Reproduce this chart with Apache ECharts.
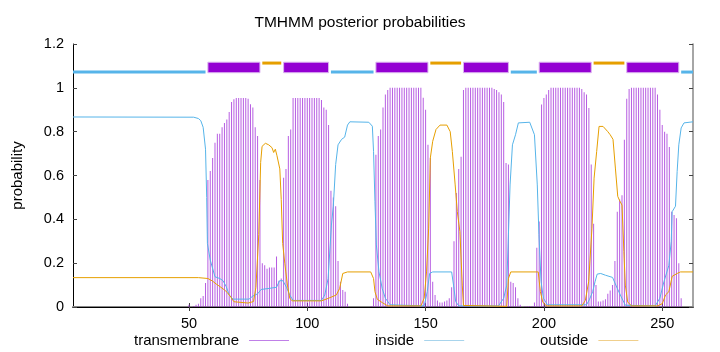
<!DOCTYPE html>
<html>
<head>
<meta charset="utf-8">
<script src="https://cdn.jsdelivr.net/npm/echarts@6/dist/echarts.min.js"></script>
<style>
  html, body { margin: 0; padding: 0; background: #fff; }
  #chart { width: 720px; height: 352px; }
</style>
</head>
<body>
<div id="chart"></div>
<script>
// TMHMM posterior probabilities, one value per residue (1..263)
var tmProb = [
  0, 0, 0, 0, 0, 0, 0, 0, 0, 0,
  0, 0, 0, 0, 0, 0, 0, 0, 0, 0,
  0, 0, 0, 0, 0, 0, 0, 0, 0, 0,
  0, 0, 0, 0, 0, 0, 0, 0, 0, 0,
  0, 0, 0, 0, 0, 0, 0, 0, 0, 0.01,
  0, 0.005, 0.01, 0.015, 0.04, 0.05, 0.11, 0.58, 0.62, 0.68,
  0.75, 0.79, 0.79, 0.82, 0.84, 0.855, 0.89, 0.935, 0.948, 0.954,
  0.954, 0.954, 0.954, 0.954, 0.95, 0.925, 0.91, 0.82, 0.78, 0.58,
  0.2, 0.19, 0.175, 0.18, 0.18, 0.18, 0.23, 0.12, 0.13, 0.59,
  0.63, 0.78, 0.81, 0.954, 0.954, 0.954, 0.954, 0.954, 0.954, 0.954,
  0.954, 0.954, 0.954, 0.954, 0.954, 0.945, 0.91, 0.9, 0.83, 0.53,
  0.5, 0.46, 0.21, 0.115, 0.077, 0.07, 0.015, 0, 0, 0,
  0, 0, 0, 0, 0, 0, 0.005, 0.04, 0.695, 0.78,
  0.81, 0.91, 0.97, 0.99, 1, 1, 1, 1, 1, 1,
  1, 1, 1, 1, 1, 1, 1, 1, 0.955, 0.9,
  0.74, 0.68, 0.115, 0.055, 0.03, 0.02, 0.02, 0.025, 0.03, 0.04,
  0.09, 0.3, 0.52, 0.63, 0.685, 0.99, 1, 1, 1, 1,
  1, 1, 1, 1, 1, 1, 1, 1, 0.995, 0.99,
  0.98, 0.97, 0.935, 0.657, 0.65, 0.115, 0.11, 0.09, 0.04, 0.01,
  0, 0.003, 0.003, 0.005, 0.005, 0.02, 0.27, 0.39, 0.924, 0.954,
  0.97, 0.99, 1, 1, 1, 1, 1, 1, 1, 1,
  1, 1, 1, 1, 1, 0.995, 0.98, 0.97, 0.908, 0.65,
  0.38, 0.1, 0.025, 0.025, 0.03, 0.035, 0.06, 0.075, 0.1, 0.21,
  0.435, 0.49, 0.51, 0.763, 0.95, 0.995, 1, 1, 1, 1,
  1, 1, 1, 1, 1, 1, 1, 0.97, 0.9, 0.83,
  0.8, 0.79, 0.73, 0.435, 0.42, 0.405, 0.2, 0.04, 0, 0,
  0, 0, 0
];

// inside / outside curves, read as [residue, probability] points
var insidePts = [
  [1, 0.867], [52, 0.866], [54, 0.86], [55, 0.85], [56, 0.82], [57, 0.72], [57.5, 0.5], [57.8, 0.29],
  [59, 0.214], [61, 0.138], [63, 0.13], [64.4, 0.12], [65.8, 0.092], [67, 0.055], [68.6, 0.036],
  [75.4, 0.036], [77, 0.05], [79, 0.06], [80.5, 0.08], [84, 0.085], [87, 0.09], [88.3, 0.12],
  [89.7, 0.12], [91.2, 0.09], [92.6, 0.055], [94, 0.03], [106, 0.03], [107.4, 0.055], [108.8, 0.13],
  [110.2, 0.374], [111, 0.46], [112, 0.65], [113, 0.74], [114.5, 0.765], [115.8, 0.775], [117, 0.83],
  [118, 0.845], [126, 0.843], [127.5, 0.825], [128, 0.71], [128.6, 0.48], [129.2, 0.283],
  [130.3, 0.16], [131.7, 0.083], [133, 0.04], [135, 0.01], [149.4, 0.005], [150.7, 0.07],
  [151.7, 0.153], [153, 0.16], [161, 0.16], [161.8, 0.1], [162.7, 0.025], [164, 0.005],
  [180.8, 0.005], [183, 0.04], [184.3, 0.1], [185, 0.33], [185.7, 0.557], [186.7, 0.74],
  [188, 0.786], [189.2, 0.84], [194, 0.843], [194.6, 0.835], [196, 0.786], [197.2, 0.557],
  [197.9, 0.33], [198.8, 0.115], [199.8, 0.04], [201.5, 0.01], [218, 0.01], [219.2, 0.033],
  [220.6, 0.07], [221.6, 0.115], [222.5, 0.15], [224, 0.153], [226, 0.145], [227.5, 0.14],
  [229, 0.135], [229.5, 0.13], [231, 0.085], [232.5, 0.05], [234.4, 0.008], [247, 0.005],
  [249, 0.04], [250.7, 0.115], [252.8, 0.19], [253.8, 0.3], [254.2, 0.435], [255.6, 0.46],
  [256.3, 0.618], [257, 0.74], [258, 0.817], [259.2, 0.84], [263, 0.845]
];
var outsidePts = [
  [1, 0.134], [54, 0.134], [58, 0.13], [60, 0.118], [61.5, 0.105], [63.5, 0.09], [65, 0.078],
  [66.3, 0.065], [67.7, 0.045], [69, 0.024], [75, 0.018], [77.3, 0.025], [78.3, 0.09],
  [79.5, 0.33], [80.3, 0.66], [80.9, 0.733], [82.3, 0.747], [83.7, 0.74], [85.1, 0.727],
  [85.8, 0.705], [86.5, 0.72], [87.2, 0.69], [88, 0.69], [88.4, 0.63], [89, 0.49], [89.6, 0.29],
  [90.5, 0.2], [91.6, 0.1], [92.6, 0.04], [93.6, 0.028], [106, 0.028], [109, 0.04],
  [112.3, 0.055], [113.7, 0.085], [115, 0.153], [117, 0.16], [126.8, 0.16], [128, 0.13],
  [128.6, 0.07], [129.6, 0.035], [131.7, 0.02], [134, 0.005], [148, 0.005], [149.4, 0.04],
  [150.4, 0.16], [151.3, 0.36], [152, 0.68], [153, 0.756], [154.4, 0.81], [156.1, 0.83],
  [156.9, 0.835], [159, 0.83], [160.4, 0.8], [161.3, 0.71], [162.5, 0.557], [163.4, 0.435],
  [164.5, 0.344], [165.5, 0.1], [166, 0.007], [184.3, 0.003], [185, 0.13], [186, 0.16],
  [197.6, 0.16], [198.5, 0.07], [199.5, 0.023], [201, 0.005], [216, 0.005], [217.5, 0.03],
  [218.9, 0.115], [220.3, 0.36], [221.2, 0.588], [222.3, 0.71], [223.3, 0.824], [225, 0.824],
  [227, 0.8], [228, 0.786], [229.2, 0.765], [230.2, 0.634], [231.2, 0.505], [232, 0.485],
  [233, 0.465], [233.8, 0.252], [234.4, 0.1], [235.4, 0.023], [237, 0.005], [248, 0.005],
  [250, 0.015], [251.4, 0.055], [252.8, 0.07], [254.2, 0.14], [256.3, 0.153], [257.7, 0.16],
  [263, 0.16]
];

// predicted topology (residue ranges)
var insideSegs = [[1, 57], [110, 128], [186, 197], [258, 263]];
var outsideSegs = [[81, 89], [152, 165], [221, 234]];
var tmSegs = [[58, 80], [90, 109], [129, 151], [166, 185], [198, 220], [235, 257]];

var xTicks = [50, 100, 150, 200, 250];
var seqLen = 263;

var chart = echarts.init(document.getElementById('chart'));

var tmData = tmProb.map(function (v, i) { return [i + 1, v]; });
var topo = [];
insideSegs.forEach(function (s) { topo.push([s[0], s[1], 0]); });
outsideSegs.forEach(function (s) { topo.push([s[0], s[1], 1]); });
tmSegs.forEach(function (s) { topo.push([s[0], s[1], 2]); });

var font = 'Liberation Sans, Arial, sans-serif';

function legendOne(name, color, left) {
  return {
    data: [{ name: name, itemStyle: { color: color } }],
    left: left, top: 328, align: 'right', icon: 'rect', itemWidth: 40, itemHeight: 1,
    textStyle: { fontFamily: font, fontSize: 15, color: '#000', padding: [0, 5, 0, 0] }
  };
}

var option = {
  animation: false,
  title: {
    text: 'TMHMM posterior probabilities',
    left: 'center',
    top: 10,
    textStyle: { fontFamily: font, fontSize: 15.5, fontWeight: 'normal', color: '#000' }
  },
  grid: { left: 73, right: 27, top: 44, bottom: 45 },
  legend: [
    legendOne('transmembrane', '#c080e8', 129),
    legendOne('inside', '#a8d4ec', 370),
    legendOne('outside', '#f0cf8c', 535)
  ],
  xAxis: [
    {
      type: 'value', min: 1, max: seqLen, position: 'bottom',
      splitLine: { show: false },
      axisLine: { lineStyle: { color: '#888', width: 2 } },
      axisTick: { inside: true, length: 4, customValues: xTicks, lineStyle: { color: '#444' } },
      axisLabel: { customValues: xTicks, margin: 9, fontFamily: font, fontSize: 14.5, color: '#000' }
    },
    {
      type: 'value', min: 1, max: seqLen, position: 'top',
      splitLine: { show: false },
      axisLine: { lineStyle: { color: '#000', width: 1 } },
      axisTick: { inside: true, length: 4, customValues: xTicks, lineStyle: { color: '#444' } },
      axisLabel: { show: false }
    }
  ],
  yAxis: [
    {
      type: 'value', min: 0, max: 1.2, interval: 0.2, position: 'left',
      name: 'probability', nameLocation: 'middle', nameRotate: 90, nameGap: 48,
      nameTextStyle: { fontFamily: font, fontSize: 15, color: '#000' },
      splitLine: { show: false },
      axisLine: { show: true, lineStyle: { color: '#000', width: 1 } },
      axisTick: { show: true, inside: true, length: 4, lineStyle: { color: '#444' } },
      axisLabel: {
        margin: 9, fontFamily: font, fontSize: 14.5, color: '#000',
        formatter: function (v) { return String(+v.toFixed(1)); }
      }
    },
    {
      type: 'value', min: 0, max: 1.2, interval: 0.2, position: 'right',
      splitLine: { show: false },
      axisLine: { show: true, lineStyle: { color: '#888', width: 1.5 } },
      axisTick: { show: true, inside: true, length: 4, lineStyle: { color: '#444' } },
      axisLabel: { show: false }
    }
  ],
  series: [
    {
      name: 'transmembrane',
      type: 'bar',
      data: tmData,
      barWidth: 1,
      itemStyle: { color: 'rgba(155, 30, 215, 0.72)' },
      z: 1
    },
    {
      name: 'inside',
      type: 'line',
      data: insidePts,
      showSymbol: false,
      lineStyle: { color: '#56b4e9', width: 1 },
      itemStyle: { color: '#56b4e9' },
      z: 3
    },
    {
      name: 'outside',
      type: 'line',
      data: outsidePts,
      showSymbol: false,
      lineStyle: { color: '#e69f00', width: 1 },
      itemStyle: { color: '#e69f00' },
      z: 3
    },
    {
      name: 'topology',
      type: 'custom',
      data: topo,
      encode: { x: [0, 1] },
      z: 4,
      renderItem: function (params, api) {
        var a = api.value(0), b = api.value(1), kind = api.value(2);
        if (kind === 2) {
          var p0 = api.coord([a, 1.117]);
          var p1 = api.coord([b, 1.069]);
          return {
            type: 'rect',
            shape: { x: p0[0], y: p0[1], width: p1[0] - p0[0], height: p1[1] - p0[1] },
            style: { fill: '#9400d3', stroke: '#dcb4f0', lineWidth: 1 }
          };
        }
        var yv = kind === 0 ? 1.072 : 1.113;
        var s = api.coord([a, yv]);
        var e = api.coord([b, yv]);
        return {
          type: 'line',
          shape: { x1: s[0], y1: s[1], x2: e[0], y2: e[1] },
          style: { stroke: kind === 0 ? '#56b4e9' : '#e69f00', lineWidth: 3 }
        };
      }
    }
  ]
};

chart.setOption(option);
</script>
</body>
</html>
